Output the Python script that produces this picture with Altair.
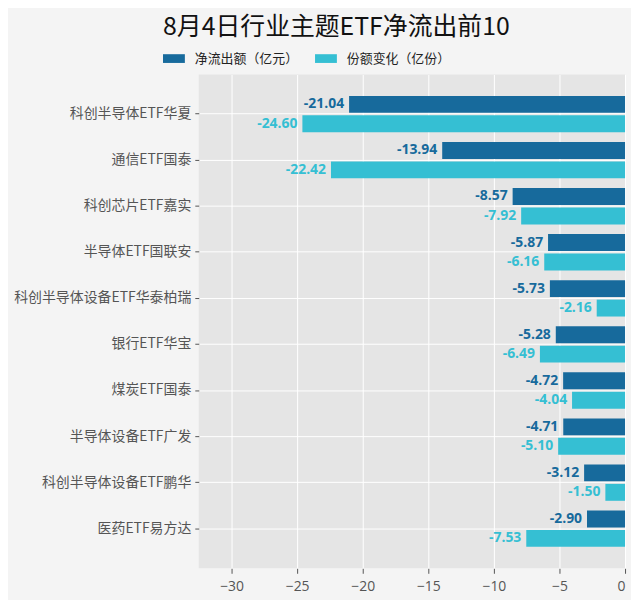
import altair as alt
import pandas as pd

names = ["科创半导体ETF华夏", "通信ETF国泰", "科创芯片ETF嘉实", "半导体ETF国联安",
         "科创半导体设备ETF华泰柏瑞", "银行ETF华宝", "煤炭ETF国泰", "半导体设备ETF广发",
         "科创半导体设备ETF鹏华", "医药ETF易方达"]
net_outflow = [-21.04, -13.94, -8.57, -5.87, -5.73, -5.28, -4.72, -4.71, -3.12, -2.90]
share_change = [-24.60, -22.42, -7.92, -6.16, -2.16, -6.49, -4.04, -5.10, -1.50, -7.53]
series = ["净流出额（亿元）", "份额变化（亿份）"]
colors = ["#176a9c", "#35bfd3"]
x_ticks = [-30, -25, -20, -15, -10, -5, 0]

rows = []
for i, n in enumerate(names):
    rows.append({"name": n, "series": series[0], "value": net_outflow[i], "order": 0})
    rows.append({"name": n, "series": series[1], "value": share_change[i], "order": 1})
df = pd.DataFrame(rows)
df["label"] = df["value"].map(lambda v: f"{v:.2f}")

cjk = "Noto Sans CJK SC"

y_enc = alt.Y("name:N", sort=names, title=None,
              scale=alt.Scale(paddingInner=0, paddingOuter=0.36),
              axis=alt.Axis(bandPosition=0.5, labelFont=cjk, labelFontSize=14,
                            labelColor="#555555", tickColor="#555555", tickSize=4,
                            domain=False, grid=True, gridColor="white", labelPadding=4))
x_enc = alt.X("value:Q", title=None,
              scale=alt.Scale(domain=[-32.5, 0], nice=False, zero=False),
              axis=alt.Axis(values=x_ticks, labelFont="Open Sans", labelFontSize=14,
                            labelColor="#555555", tickColor="#555555", tickSize=5,
                            domain=False, grid=True, gridColor="white", labelPadding=6))
yoff = alt.YOffset("series:N", sort=series,
                   scale=alt.Scale(paddingInner=0.13, paddingOuter=0.25))
color_scale = alt.Scale(domain=series, range=colors)

bars = alt.Chart(df).mark_bar().encode(
    y=y_enc, x=x_enc, yOffset=yoff,
    color=alt.Color("series:N", scale=color_scale, sort=series,
                    legend=alt.Legend(title=None, orient="none", direction="horizontal",
                                      legendX=-36, legendY=-27,
                                      symbolType="M-1,-0.4H1V0.4H-1Z", symbolSize=484,
                                      symbolStrokeWidth=0,
                                      labelFont=cjk, labelFontSize=13, labelColor="#222222",
                                      columnPadding=16, labelOffset=10)),
)

texts = alt.Chart(df).mark_text(align="right", baseline="middle", dx=-5,
                                fontWeight="bold", font="Open Sans", fontSize=14).encode(
    y=y_enc, x=x_enc, yOffset=yoff, text="label:N",
    color=alt.Color("series:N", scale=color_scale, sort=series, legend=None),
)

chart = alt.layer(bars, texts).properties(
    width=429, height=497,
    background="#f4f4f4",
    title=alt.TitleParams("8月4日行业主题ETF净流出前10", font=cjk, fontSize=25,
                          fontWeight="normal", color="#111111", offset=8, dx=-76),
).configure_view(fill="#e5e5e5", stroke=None)

chart.save("out.html", embed_options={"renderer": "svg", "actions": False})
